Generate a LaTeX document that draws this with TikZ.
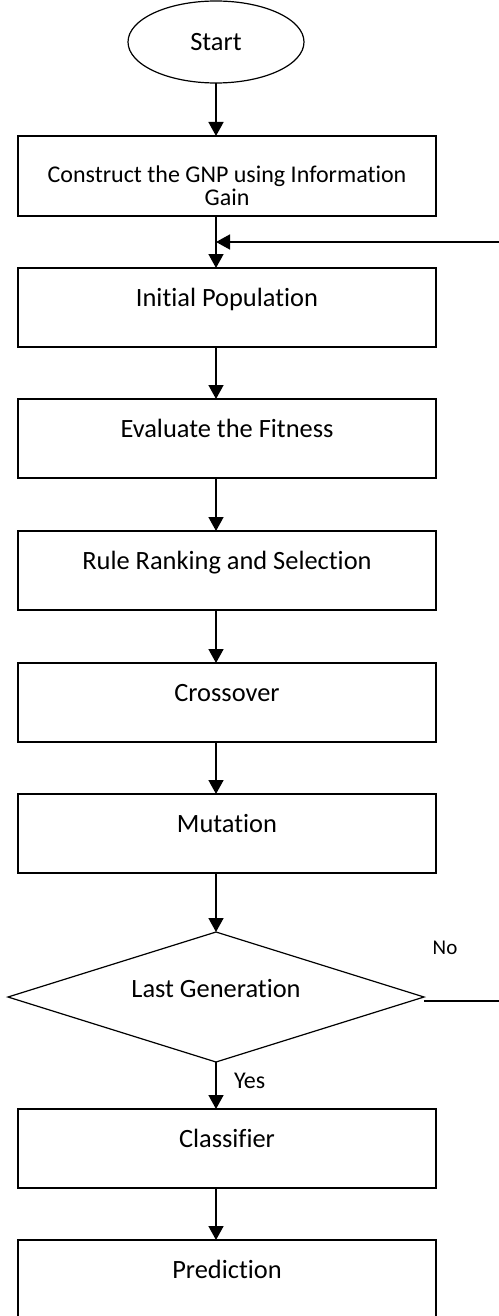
\documentclass[tikz,border=0pt]{standalone}
\usepackage{fontspec}
\setmainfont{Carlito}[Ligatures=NoCommon]
\usetikzlibrary{arrows.meta,positioning,shapes.geometric,calc}
\newcommand\tightlines{\lineskiplimit=-30pt\relax}

\begin{document}
\begin{tikzpicture}[
  font=\fontsize{26.4}{22.5}\selectfont\tightlines,
  node distance=52pt,
  outer sep=0pt,
  box/.style={draw, line width=1.2pt, minimum width=418pt, inner sep=0pt,
              text height=38pt, text depth=41pt, align=center},
  arr/.style={-{Triangle[length=14pt,width=15pt]}, line width=1.6pt},
  lbl/.style={inner sep=0pt, font=\fontsize{24}{24}\selectfont}
]
\useasboundingbox (0,0) rectangle (498pt,-1316pt);
\node[ellipse, draw, line width=1.2pt, minimum width=176pt, minimum height=82pt,
      inner sep=0pt, text height=17pt, text depth=0pt] (start) at (216pt,-42pt) {Start};
\node[box, below=53pt of start, xshift=11pt, text height=69pt, text depth=11pt,
      font=\fontsize{24}{22.5}\selectfont\tightlines] (gnp)
  {Construct the GNP using Information\\Gain};
\node[box, below=of gnp] (init) {Initial Population};
\node[box, below=of init] (eval) {Evaluate the Fitness};
\node[box, below=53pt of eval] (rank) {Rule Ranking and Selection};
\node[box, below=53pt of rank] (cross) {Crossover};
\node[box, below=of cross] (mut) {Mutation};
\node[diamond, aspect=3.2, draw, line width=1.2pt, minimum width=416pt, minimum height=130pt,
      inner sep=0pt, text height=9pt, text depth=9pt,
      below=59pt of mut, xshift=-11pt] (last) {Last Generation};
\node[box, below=47pt of last, xshift=11pt] (cls) {Classifier};
\node[box, below=of cls] (pred) {Prediction};
\node[lbl, font=\fontsize{21}{21}\selectfont] (no) at (445pt,-948pt) {No};
\coordinate (join) at ($(gnp.south -| start)!0.5!(init.north -| start)$);
\draw[arr] (start) -- (start |- gnp.north);
\draw[arr] (gnp.south -| start) -- (init.north -| start);
\draw[arr] (init.south -| start) -- (eval.north -| start);
\draw[arr] (eval.south -| start) -- (rank.north -| start);
\draw[arr] (rank.south -| start) -- (cross.north -| start);
\draw[arr] (cross.south -| start) -- (mut.north -| start);
\draw[arr] (mut.south -| start) -- (last);
\draw[arr] (last) -- node[lbl, pos=0.4, right=18pt] (yes) {Yes} (last |- cls.north);
\draw[arr] (cls.south -| start) -- (pred.north -| start);
\draw[arr] ([yshift=-4pt]last.east) -- ++(90pt,0) |- (join);
\end{tikzpicture}
\end{document}
